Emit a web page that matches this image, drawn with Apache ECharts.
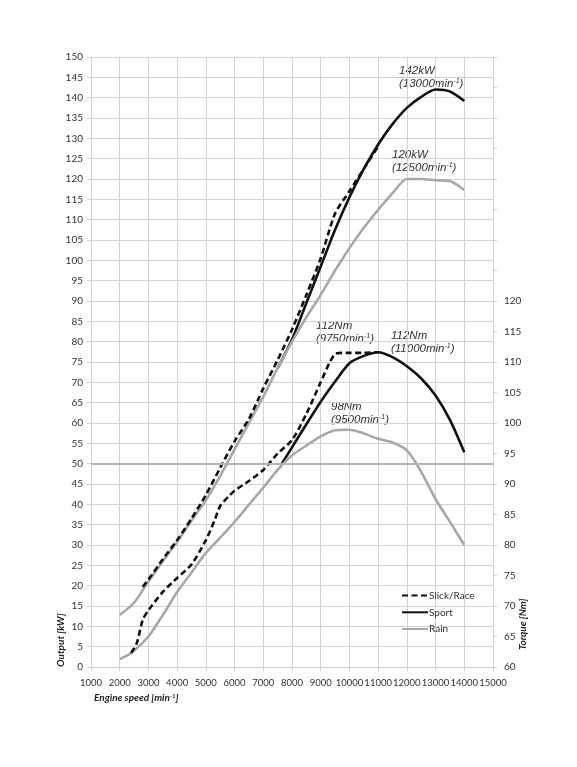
<!DOCTYPE html>
<html>
<head>
<meta charset="utf-8">
<script src="https://cdn.jsdelivr.net/npm/echarts@6/dist/echarts.min.js"></script>
<style>
  html, body { margin: 0; padding: 0; background: #fff; }
  #chart { width: 577px; height: 767px; }
</style>
</head>
<body>
<div id="chart"></div>
<script>
  // output [kW] vs engine speed [rpm]
  const slickPower = [[2800, 19.7], [3000, 21.5], [3500, 26.5], [4000, 31.2], [4500, 36.5], [5000, 42.3], [5500, 49], [6000, 55.5], [6500, 61], [7000, 68.5], [7500, 75.5], [8000, 83], [8500, 91.5], [9000, 100.5], [9500, 111.5], [10000, 117], [10500, 122.5], [11000, 128]];
  const sportPower = [[7500, 73.5], [8000, 80.5], [8500, 89.5], [9000, 98.5], [9500, 107.5], [10000, 115.5], [10500, 122.5], [11000, 128.5], [11500, 133.5], [12000, 137.5], [12500, 140.2], [13000, 142], [13500, 141.5], [14000, 139.2]];
  const rainPower = [[2000, 12.8], [2500, 15.8], [3000, 21], [3500, 26], [4000, 30.8], [4500, 36], [5000, 41], [5500, 47], [6000, 53.5], [6500, 60], [7000, 66.5], [7500, 73.5], [8000, 80], [8500, 86], [9000, 91.5], [9500, 97.5], [10000, 103], [10500, 108], [11000, 112.4], [11500, 116.5], [12000, 120], [12500, 120], [13000, 119.7], [13500, 119.5], [14000, 117.3]];

  // torque [Nm] vs engine speed [rpm]
  const slickTorque = [[2400, 62.3], [2600, 64], [2800, 67.7], [3000, 69.3], [3500, 72.3], [4000, 74.6], [4500, 76.8], [5000, 80.8], [5300, 84], [5500, 86.4], [5800, 88], [6000, 88.9], [6500, 90.5], [7000, 92.3], [7500, 95], [8000, 97.2], [8500, 101.5], [9000, 106.7], [9300, 109.8], [9500, 111.3], [9750, 111.5], [10000, 111.5], [10500, 111.5], [11000, 111.6]];
  const sportTorque = [[7600, 93], [8000, 96], [8500, 99.8], [9000, 103.5], [9500, 106.8], [10000, 109.8], [10500, 111], [11000, 111.6], [11500, 110.8], [12000, 109.3], [12500, 107.3], [13000, 104.5], [13500, 100.5], [14000, 95.2]];
  const rainTorque = [[2000, 61.3], [2400, 62.3], [3000, 65], [3500, 68.5], [4000, 72.3], [4500, 75.5], [5000, 78.7], [5500, 81.2], [6000, 83.8], [6500, 86.6], [7000, 89.4], [7500, 92.3], [8000, 94.7], [8500, 96.3], [9000, 97.8], [9500, 98.8], [10000, 98.9], [10500, 98.3], [11000, 97.4], [11500, 96.8], [12000, 95.5], [12500, 92], [13000, 87.5], [13500, 83.8], [14000, 80]];

  const legendNames = ['Slick/Race', 'Sport', 'Rain'];

  const BLACK = '#111111';
  const GRAY = '#a8a8a8';
  const GRID = '#d2d2d2';
  const FONT = 'Lato';

  function line(name, data, color, dashed, yAxisIndex) {
    return {
      type: 'line',
      name: name,
      data: data,
      yAxisIndex: yAxisIndex,
      symbol: 'none',
      smooth: 0.25,
      silent: true,
      z: dashed ? 4 : 3,
      lineStyle: {color: color, width: 2.6, type: dashed ? [6, 3.5] : 'solid'},
      itemStyle: {color: color}
    };
  }

  function note(x, y, lines) {
    return {
      type: 'text',
      left: x,
      top: y,
      style: {
        rich: {
          a: {fontFamily: 'Liberation Sans', fontStyle: 'italic', fontSize: 11.5, fill: '#333', lineHeight: 13},
          s: {fontFamily: 'Liberation Sans', fontStyle: 'italic', fontSize: 7, fill: '#333', verticalAlign: 'top', lineHeight: 13}
        },
        text: lines
      }
    };
  }

  function sideTitle(x, y, text) {
    return {
      type: 'text',
      x: x,
      y: y,
      rotation: Math.PI / 2,
      style: {
        text: text,
        fontFamily: FONT, fontStyle: 'italic', fontWeight: 'bold', fontSize: 10, fill: '#222',
        align: 'left', verticalAlign: 'top'
      }
    };
  }

  const chart = echarts.init(document.getElementById('chart'));

  const option = {
    animation: false,
    backgroundColor: '#fff',
    grid: {left: 91, right: 84, top: 57, bottom: 100},
    legend: {
      data: legendNames,
      orient: 'vertical',
      left: 396,
      top: 585,
      itemWidth: 26,
      itemHeight: 14,
      itemGap: 5.5,
      itemStyle: {opacity: 0},
      textStyle: {fontFamily: FONT, fontSize: 10, color: '#333', padding: [0, 0, 0, -4]}
    },
    xAxis: {
      type: 'value',
      min: 1000,
      max: 15000,
      interval: 1000,
      axisLine: {show: true, lineStyle: {color: GRID}},
      axisTick: {show: true, length: 4, lineStyle: {color: GRID}},
      axisLabel: {
        fontFamily: FONT, fontSize: 9.5, color: '#333', margin: 11,
        showMinLabel: true, showMaxLabel: true, hideOverlap: false,
        formatter: v => String(v)
      },
      splitLine: {show: true, lineStyle: {color: GRID, width: 1}}
    },
    yAxis: [{
      type: 'value',
      min: 0,
      max: 150,
      interval: 5,
      axisLine: {show: true, lineStyle: {color: GRID}},
      axisTick: {show: true, length: 4, lineStyle: {color: GRID}},
      axisLabel: {fontFamily: FONT, fontSize: 10, color: '#333', margin: 8},
      splitLine: {show: true, lineStyle: {color: GRID, width: 1}}
    }, {
      type: 'value',
      position: 'right',
      min: 60,
      max: 160,
      interval: 5,
      axisLine: {show: true, lineStyle: {color: GRID}},
      axisTick: {show: true, length: 4, lineStyle: {color: GRID}},
      axisLabel: {
        fontFamily: FONT, fontSize: 10, color: '#333', margin: 11,
        formatter: v => (v <= 120 ? String(v) : '')
      },
      splitLine: {show: false}
    }],
    series: [
      line('Slick/Race', slickPower, BLACK, true, 0),
      line('Sport', sportPower, BLACK, false, 0),
      Object.assign(line('Rain', rainPower, GRAY, false, 0), {
        markLine: {
          silent: true,
          symbol: 'none',
          label: {show: false},
          lineStyle: {color: '#b4b4b4', width: 2, type: 'solid'},
          data: [{yAxis: 50}]
        }
      }),
      line('Slick/Race', slickTorque, BLACK, true, 1),
      line('Sport', sportTorque, BLACK, false, 1),
      line('Rain', rainTorque, GRAY, false, 1)
    ],
    graphic: [
      note(399, 65, '{a|142kW}\n{a|(13000min}{s|-1}{a|)}'),
      note(392, 149, '{a|120kW}\n{a|(12500min}{s|-1}{a|)}'),
      note(316, 320, '{a|112Nm}\n{a|(9750min}{s|-1}{a|)}'),
      note(391, 330, '{a|112Nm}\n{a|(11000min}{s|-1}{a|)}'),
      note(331, 401, '{a|98Nm}\n{a|(9500min}{s|-1}{a|)}'),
      {
        type: 'text',
        left: 94,
        top: 693,
        style: {
          rich: {
            b: {fontFamily: FONT, fontStyle: 'italic', fontWeight: 'bold', fontSize: 10, fill: '#222'},
            s: {fontFamily: FONT, fontStyle: 'italic', fontWeight: 'bold', fontSize: 6, fill: '#222', verticalAlign: 'top'}
          },
          text: '{b|Engine speed [min}{s|-1}{b|]}'
        }
      },
      sideTitle(56, 667, 'Output [kW]'),
      sideTitle(518, 650, 'Torque [Nm]')
    ]
  };

  chart.setOption(option);
</script>
</body>
</html>
